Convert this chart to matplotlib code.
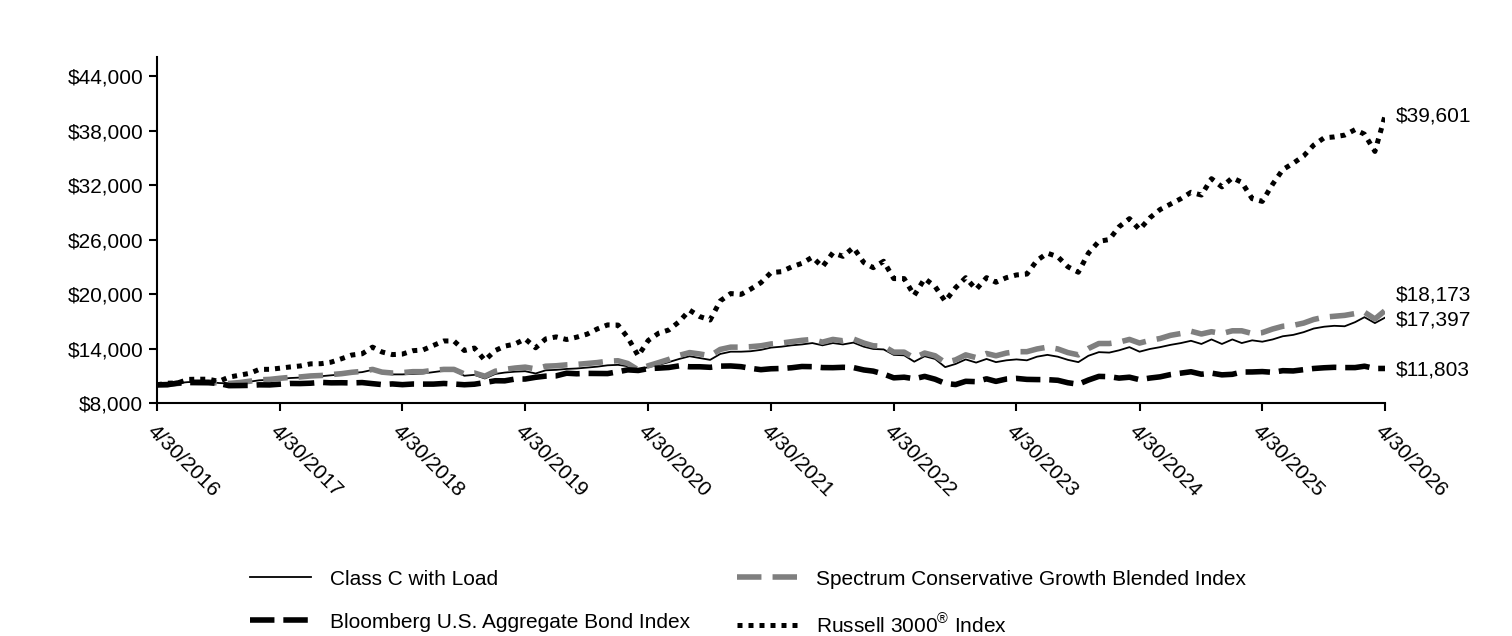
import numpy as np
import pandas as pd
import matplotlib
matplotlib.use("Agg")
import matplotlib.pyplot as plt
import matplotlib.dates as mdates
from matplotlib.ticker import FuncFormatter

plt.rcParams['font.family'] = ['Liberation Sans', 'DejaVu Sans']
plt.rcParams['mathtext.fontset'] = 'custom'
plt.rcParams['mathtext.rm'] = 'Liberation Sans'

# month-end values, 4/30/2016 .. 4/30/2026
dates = pd.date_range('2016-04-30', periods=121, freq='ME')

class_c = [
    10000, 10080, 10200, 10300, 10320, 10330, 10200, 10150, 10250,
    10350, 10500, 10550, 10650, 10750, 10800, 10900, 10950, 11050, 11150, 11300, 11400,
    11650, 11300, 11150, 11150, 11200, 11250, 11400, 11550, 11600, 11000, 11100, 10700,
    11200, 11350, 11450, 11500, 11250, 11600, 11650, 11750, 11800, 11900, 12000, 12150,
    12200, 12050, 11650, 11950, 12200, 12500, 12850, 13150, 12950, 12750, 13400, 13650,
    13650, 13700, 13850, 14100, 14200, 14350, 14450, 14600, 14350, 14600, 14450, 14650,
    14200, 13950, 13900, 13300, 13250, 12550, 13150, 12850, 11950, 12300, 12800, 12450,
    12850, 12500, 12700, 12800, 12700, 13100, 13300, 13100, 12750, 12500, 13200, 13600,
    13550, 13800, 14150, 13650, 13950, 14150, 14400, 14600, 14850, 14500, 15000, 14500,
    15000, 14600, 14900, 14750, 15000, 15350, 15500, 15800, 16200, 16400, 16500, 16450,
    16900, 17450, 16800, 17397]

spectrum = [
    10000, 10050, 10150, 10300, 10320, 10330, 10180, 10150, 10250,
    10400, 10550, 10600, 10720, 10820, 10870, 10980, 11030, 11130, 11230, 11380, 11480,
    11700, 11400, 11300, 11350, 11450, 11450, 11600, 11700, 11700, 11200, 11300, 10950,
    11500, 11700, 11850, 11950, 11750, 12050, 12100, 12200, 12250, 12350, 12450, 12600,
    12650, 12350, 11650, 12100, 12450, 12800, 13250, 13550, 13400, 13200, 13900, 14150,
    14150, 14200, 14300, 14500, 14600, 14750, 14900, 15000, 14700, 15000, 14850, 15050,
    14600, 14300, 14250, 13600, 13600, 12950, 13500, 13200, 12450, 12750, 13300, 13000,
    13450, 13200, 13500, 13650, 13650, 13950, 14150, 13950, 13550, 13300, 14000, 14550,
    14550, 14700, 15000, 14600, 14900, 15100, 15450, 15650, 15900, 15600, 15850, 15650,
    15950, 15950, 15650, 15750, 16150, 16450, 16550, 16800, 17200, 17450, 17550, 17650,
    17850, 18000, 17250, 18173]

bloomberg = [
    10000, 10010, 10190, 10250, 10240, 10230, 10150, 9910, 9920,
    9940, 10000, 9990, 10070, 10150, 10140, 10180, 10270, 10220, 10230, 10210, 10250,
    10130, 10030, 10100, 10020, 10090, 10080, 10080, 10150, 10090, 10010, 10070, 10250,
    10450, 10440, 10640, 10640, 10830, 10960, 10990, 11280, 11220, 11260, 11250, 11240,
    11440, 11650, 11580, 11790, 11840, 11910, 12090, 11990, 11990, 11930, 12060, 12080,
    12000, 11820, 11670, 11770, 11800, 11880, 12020, 12000, 11900, 11890, 11930, 11900,
    11640, 11510, 11190, 10770, 10840, 10670, 10930, 10620, 10160, 10030, 10390, 10350,
    10660, 10380, 10640, 10710, 10600, 10580, 10570, 10500, 10230, 10070, 10530, 10930,
    10900, 10740, 10840, 10570, 10750, 10880, 11130, 11290, 11440, 11170, 11290, 11100,
    11160, 11410, 11420, 11460, 11380, 11560, 11530, 11670, 11800, 11880, 11930, 11900,
    11900, 12050, 11800, 11803]

russell = [
    10000, 10180, 10200, 10600, 10620, 10620, 10380, 10850, 11060,
    11270, 11700, 11710, 11830, 11970, 12080, 12310, 12330, 12500, 12880, 13280, 13420,
    14150, 13620, 13330, 13390, 13760, 13840, 14340, 14830, 14830, 13780, 14050, 12700,
    13780, 14260, 14500, 15060, 14080, 15060, 15280, 14990, 15250, 15580, 16150, 16600,
    16580, 15210, 13200, 14890, 15690, 16040, 16960, 18220, 17520, 17140, 19240, 20050,
    19960, 20530, 21250, 22360, 22460, 22980, 23380, 24060, 22990, 24540, 24150, 25120,
    23470, 22900, 23610, 21700, 21700, 19850, 21700, 20830, 19200, 20700, 21800, 20500,
    21800, 21300, 21800, 22100, 22200, 23700, 24500, 24100, 23000, 22400, 24500, 25800,
    26000, 27400, 28300, 27100, 28400, 29300, 29900, 30500, 31200, 30900, 32700, 31800,
    32800, 32300, 30500, 30200, 32100, 33700, 34400, 35200, 36400, 37200, 37300, 37500,
    38100, 37600, 35700, 39601]

tick_dates = pd.date_range('2016-04-30', periods=11, freq='12ME')
tick_labels = [d.strftime('%-m/%d/%Y') for d in tick_dates]
y_ticks = [8000, 14000, 20000, 26000, 32000, 38000, 44000]

fig = plt.figure(figsize=(15.12, 6.36), dpi=100)
ax = fig.add_axes([157/1512, 1-403/636, (1385-157)/1512, (403-57)/636])

l_c, = ax.plot(dates, class_c, color='black', lw=1.3, label='Class C with Load')
l_s, = ax.plot(dates, spectrum, color='#7f7f7f', lw=4, dashes=(4.4, 2.0),
               label='Spectrum Conservative Growth Blended Index')
l_b, = ax.plot(dates, bloomberg, color='black', lw=4, dashes=(4.4, 1.6),
               label='Bloomberg U.S. Aggregate Bond Index')
l_r, = ax.plot(dates, russell, color='black', lw=3.6, dashes=(1.0, 1.2),
               label='Russell 3000$^{®}$ Index')

ax.set_xlim(dates[0], dates[-1])
ax.set_ylim(8000, 46100)
ax.set_yticks(y_ticks)
ax.yaxis.set_major_formatter(FuncFormatter(lambda v, p: '${:,.0f}'.format(v)))
ax.set_xticks(tick_dates)
ax.set_xticklabels(tick_labels, rotation=-45, ha='left', va='top', rotation_mode='anchor')

for s in ['top', 'right']:
    ax.spines[s].set_visible(False)
for s in ['left', 'bottom']:
    ax.spines[s].set_linewidth(1.5)
ax.tick_params(axis='both', labelsize=15, width=1.5, length=6, direction='out', pad=4)
ax.tick_params(axis='x', pad=7)

# end labels
ends = [(russell[-1], 0), (spectrum[-1], 11), (class_c[-1], -2), (bloomberg[-1], -1)]
for v, dy in ends:
    ax.annotate('${:,.0f}'.format(v), xy=(dates[-1], v), xytext=(8, dy),
                textcoords='offset points', va='center', ha='left', fontsize=15,
                annotation_clip=False)

fig.legend(handles=[l_c, l_b, l_s, l_r], ncol=2, frameon=False, fontsize=15,
           loc='center left', bbox_to_anchor=(240/1512, 1-603/636), borderpad=0,
           handlelength=2.9, handletextpad=0.9, columnspacing=2.25, labelspacing=1.15)

fig.savefig('out.png', dpi=100)
